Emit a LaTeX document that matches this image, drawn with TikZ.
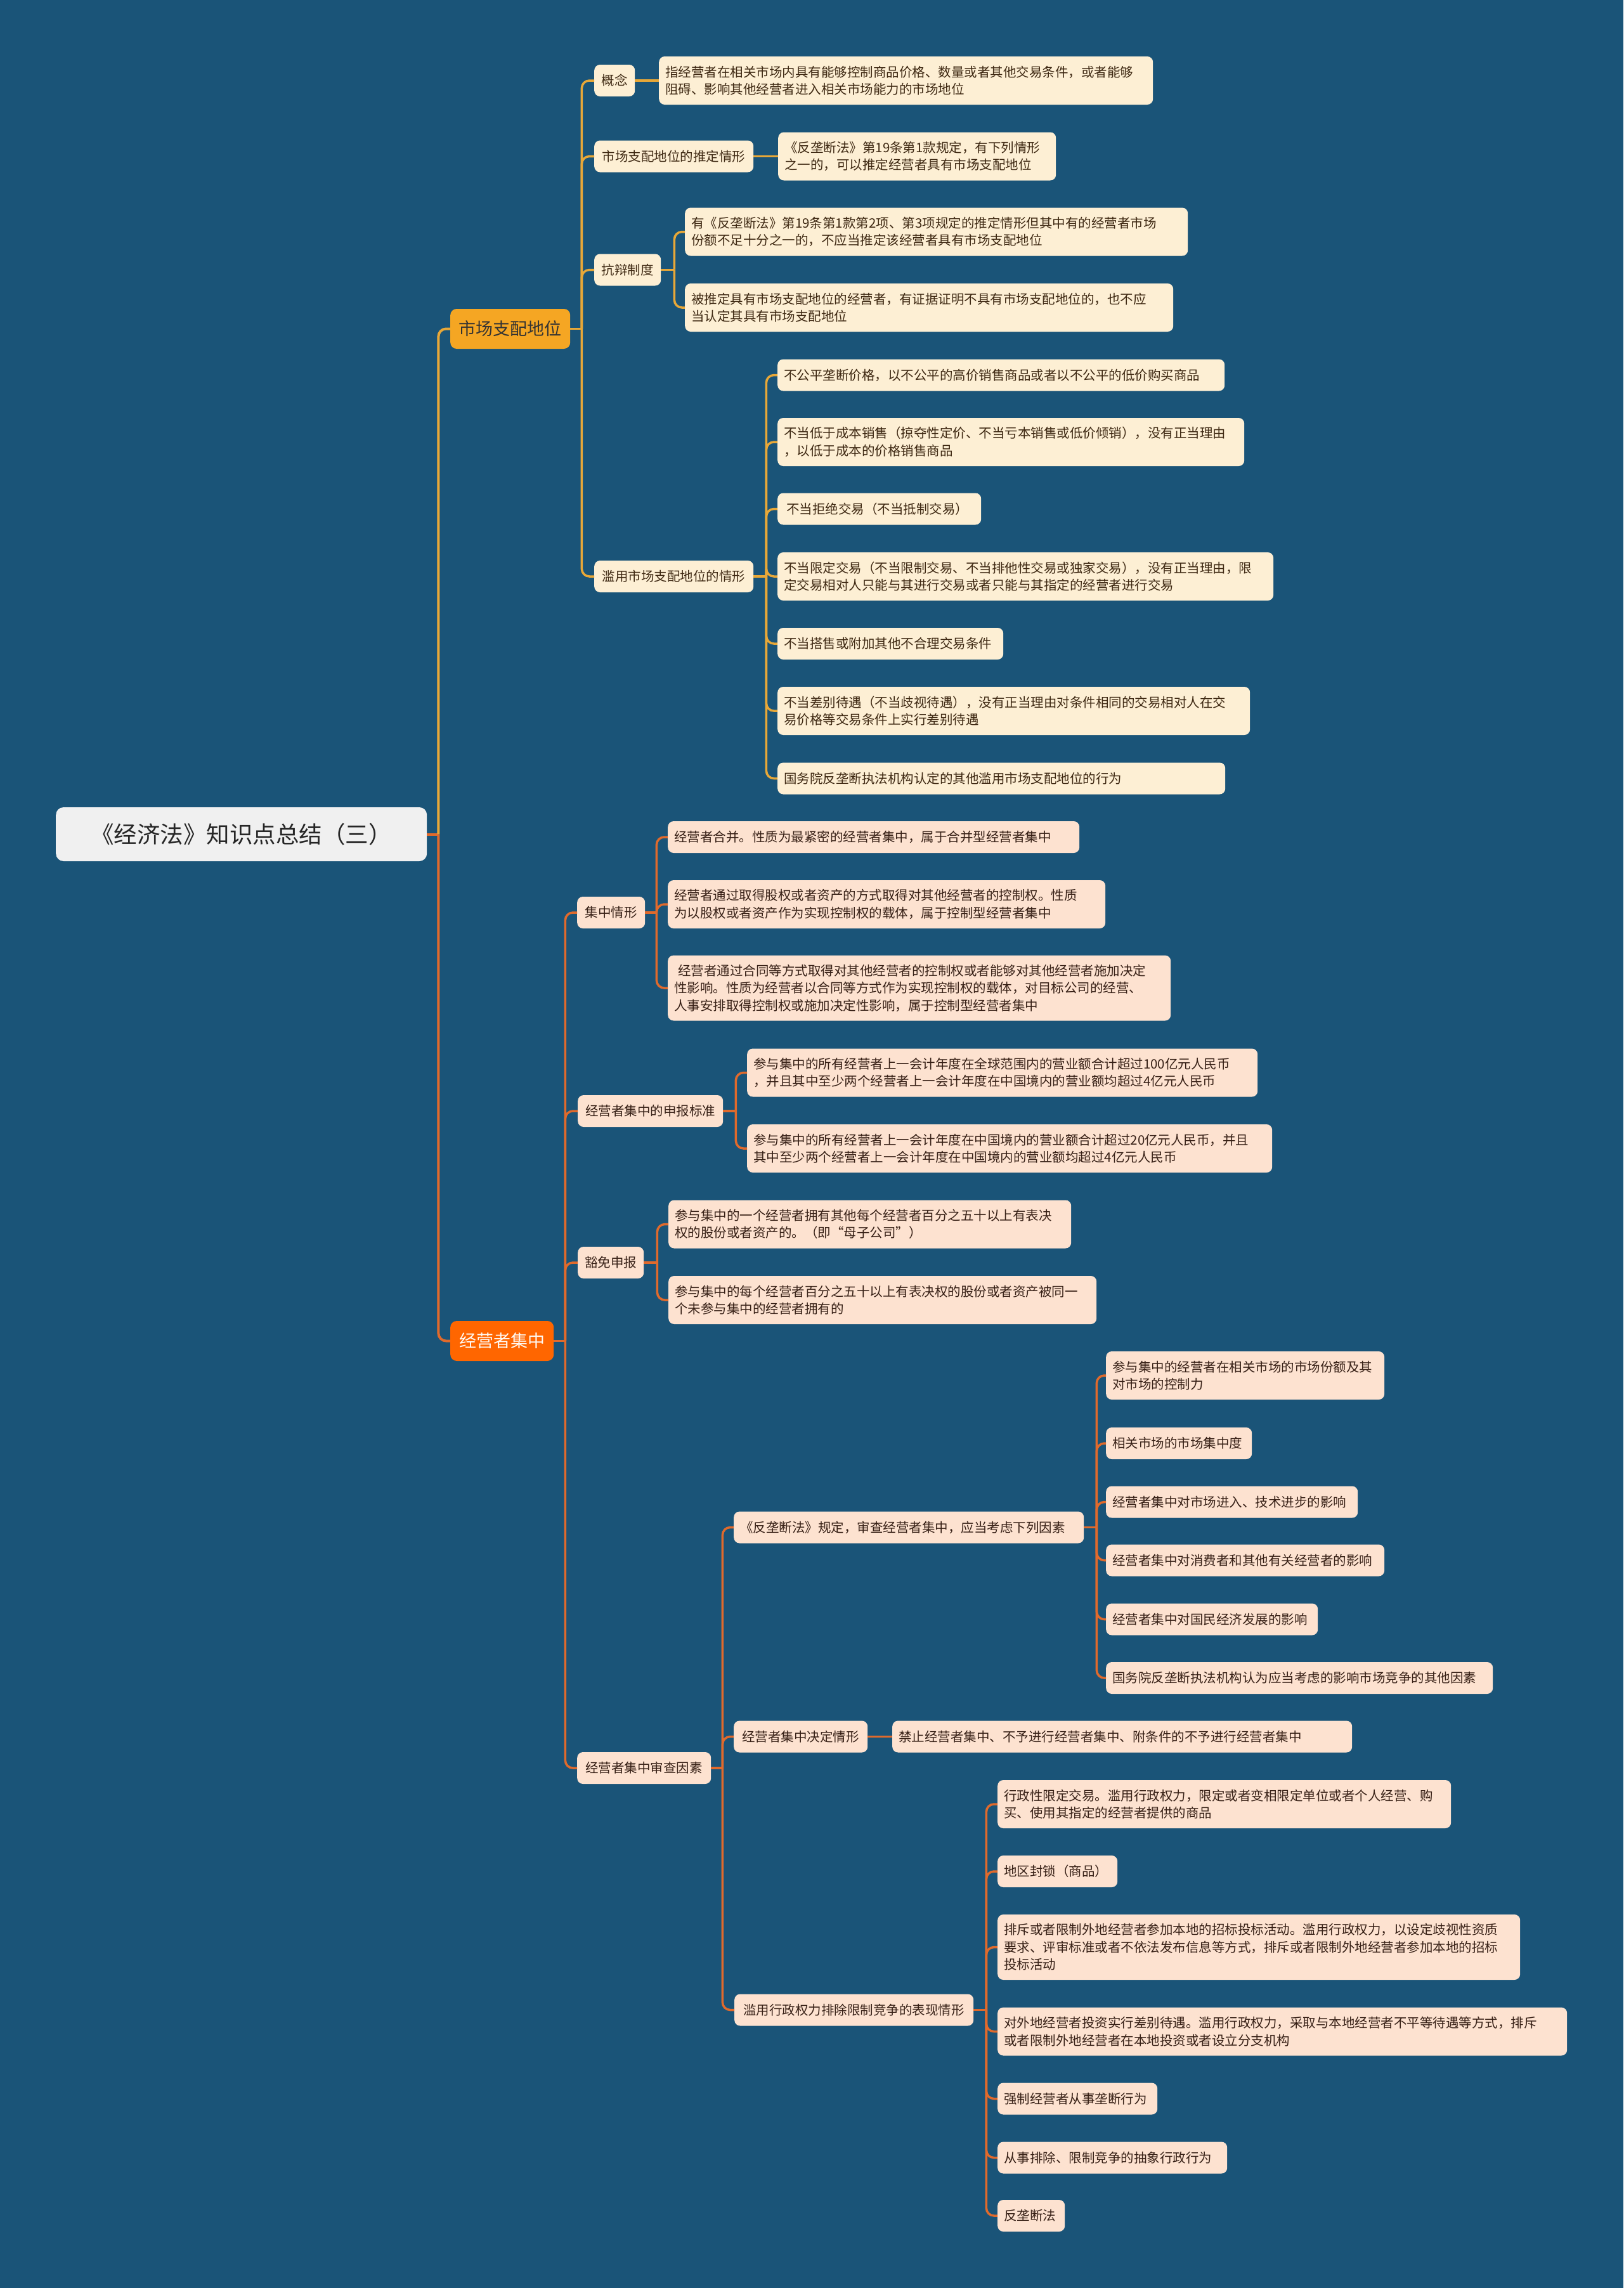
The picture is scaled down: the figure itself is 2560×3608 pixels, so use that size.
\documentclass[tikz,border=0pt]{standalone}
\usepackage{fontspec}
\setmainfont{Noto Sans CJK SC}
\definecolor{bg}{RGB}{26,84,120}
\definecolor{creamA}{RGB}{253,239,212}
\definecolor{peachB}{RGB}{253,226,208}
\definecolor{txtA}{RGB}{62,40,18}
\definecolor{txtB}{RGB}{55,32,22}
\definecolor{lineA}{RGB}{232,168,56}
\definecolor{lineB}{RGB}{224,106,44}
\definecolor{bOne}{RGB}{245,166,35}
\definecolor{bTwo}{RGB}{255,102,0}
\definecolor{rootfill}{RGB}{240,240,240}
\tikzset{
  boxbase/.style={rounded corners=9pt, inner xsep=10pt, inner ysep=6pt, anchor=west,
    font=\fontsize{20.5}{27.5}\selectfont, align=left, minimum height=50pt},
  ya/.style={boxbase, fill=creamA, text=txtA},
  ob/.style={boxbase, fill=peachB, text=txtB},
  yam/.style={ya, align=center},
  obm/.style={ob, align=center},
  lnA/.style={draw=lineA, line width=3.5pt},
  lnB/.style={draw=lineB, line width=3.5pt},
  rc/.style={rounded corners=12pt},
}
\begin{document}
\begin{tikzpicture}[x=1pt,y=-1pt]
\fill[bg] (0,0) rectangle (2560,3608);
\useasboundingbox (0,0) rectangle (2560,3608);

% root and branches
\node[fill=rootfill, text=black!85, rounded corners=12pt, anchor=west, minimum width=585pt, minimum height=85pt,
  font=\fontsize{36.5}{42}\selectfont] (root) at (88,1315.5) {《经济法》知识点总结（三）};
\node[fill=bOne, text=black!80, rounded corners=10pt, anchor=west, minimum width=189pt, minimum height=63pt,
  font=\fontsize{27}{32}\selectfont] (B1) at (710,518.5) {市场支配地位};
\node[fill=bTwo, text=white!95!orange, rounded corners=10pt, anchor=west, minimum width=163pt, minimum height=63pt,
  font=\fontsize{27}{32}\selectfont] (B2) at (710,2114.5) {经营者集中};

% ---------- branch 1 ----------
\node[yam, text width=44pt] (a) at (937,127) {概念};
\node[yam, text width=231pt] (b) at (937,246.5) {市场支配地位的推定情形};
\node[yam, text width=85pt] (c) at (937,425.5) {抗辩制度};
\node[yam, text width=231pt] (d) at (937,909) {滥用市场支配地位的情形};

\node[ya, text width=759pt, minimum height=76pt] (a1) at (1039,127) {指经营者在相关市场内具有能够控制商品价格、数量或者其他交易条件，或者能够\\阻碍、影响其他经营者进入相关市场能力的市场地位};
\node[ya, text width=418pt, minimum height=76pt] (b1) at (1227,246.5) {《反垄断法》第19条第1款规定，有下列情形\\之一的，可以推定经营者具有市场支配地位};
\node[ya, text width=773pt, minimum height=76pt] (c1) at (1080,365.5) {有《反垄断法》第19条第1款第2项、第3项规定的推定情形但其中有的经营者市场\\份额不足十分之一的，不应当推定该经营者具有市场支配地位};
\node[ya, text width=750pt, minimum height=76pt] (c2) at (1080,485) {被推定具有市场支配地位的经营者，有证据证明不具有市场支配地位的，也不应\\当认定其具有市场支配地位};
\node[ya, text width=685pt] (d1) at (1226,591.5) {不公平垄断价格，以不公平的高价销售商品或者以不公平的低价购买商品};
\node[ya, text width=716pt, minimum height=76pt] (d2) at (1226,697) {不当低于成本销售（掠夺性定价、不当亏本销售或低价倾销），没有正当理由\\，以低于成本的价格销售商品};
\node[ya, text width=301pt] (d3) at (1226,802.5) {\hspace*{0.2em}不当拒绝交易（不当抵制交易）};
\node[ya, text width=762pt, minimum height=76pt] (d4) at (1226,909) {不当限定交易（不当限制交易、不当排他性交易或独家交易），没有正当理由，限\\定交易相对人只能与其进行交易或者只能与其指定的经营者进行交易};
\node[ya, text width=336pt] (d5) at (1226,1015) {不当搭售或附加其他不合理交易条件};
\node[ya, text width=725pt, minimum height=76pt] (d6) at (1226,1121) {不当差别待遇（不当歧视待遇），没有正当理由对条件相同的交易相对人在交\\易价格等交易条件上实行差别待遇};
\node[ya, text width=686pt] (d7) at (1226,1227.5) {国务院反垄断执法机构认定的其他滥用市场支配地位的行为};

% ---------- branch 2 ----------
\node[obm, text width=87pt] (e) at (910,1439) {集中情形};
\node[obm, text width=209pt] (f) at (911,1752) {经营者集中的申报标准};
\node[obm, text width=84pt] (g) at (911,1991) {豁免申报};
\node[obm, text width=191pt] (h) at (910,2788) {经营者集中审查因素};

\node[ob, text width=629pt] (e1) at (1053,1320) {经营者合并。性质为最紧密的经营者集中，属于合并型经营者集中};
\node[ob, text width=670pt, minimum height=76pt] (e2) at (1053,1426) {经营者通过取得股权或者资产的方式取得对其他经营者的控制权。性质\\为以股权或者资产作为实现控制权的载体，属于控制型经营者集中};
\node[ob, text width=773pt, minimum height=103pt] (e3) at (1053,1558) {\hspace*{0.3em}经营者通过合同等方式取得对其他经营者的控制权或者能够对其他经营者施加决定\\性影响。性质为经营者以合同等方式作为实现控制权的载体，对目标公司的经营、\\人事安排取得控制权或施加决定性影响，属于控制型经营者集中};
\node[ob, text width=785pt, minimum height=76pt] (f1) at (1178,1691.5) {参与集中的所有经营者上一会计年度在全球范围内的营业额合计超过100亿元人民币\\，并且其中至少两个经营者上一会计年度在中国境内的营业额均超过4亿元人民币};
\node[ob, text width=808pt, minimum height=76pt] (f2) at (1178,1811) {参与集中的所有经营者上一会计年度在中国境内的营业额合计超过20亿元人民币，并且\\其中至少两个经营者上一会计年度在中国境内的营业额均超过4亿元人民币};
\node[ob, text width=615pt, minimum height=76pt] (g1) at (1054,1930.5) {参与集中的一个经营者拥有其他每个经营者百分之五十以上有表决\\权的股份或者资产的。（即“母子公司”）};
\node[ob, text width=655pt, minimum height=76pt] (g2) at (1054,2050) {参与集中的每个经营者百分之五十以上有表决权的股份或者资产被同一\\个未参与集中的经营者拥有的};

\node[ob, text width=532pt] (h1) at (1157,2408.5) {《反垄断法》规定，审查经营者集中，应当考虑下列因素};
\node[obm, text width=191pt] (h2) at (1157,2738.5) {经营者集中决定情形};
\node[obm, text width=357pt] (h3) at (1158,3169.5) {滥用行政权力排除限制竞争的表现情形};

\node[ob, text width=419pt, minimum height=76pt] (h1a) at (1744,2169) {参与集中的经营者在相关市场的市场份额及其\\对市场的控制力};
\node[ob, text width=210pt] (h1b) at (1744,2276) {相关市场的市场集中度};
\node[ob, text width=377pt] (h1c) at (1744,2368.5) {经营者集中对市场进入、技术进步的影响};
\node[ob, text width=419pt] (h1d) at (1744,2460.5) {经营者集中对消费者和其他有关经营者的影响};
\node[ob, text width=314pt] (h1e) at (1744,2553.5) {经营者集中对国民经济发展的影响};
\node[ob, text width=590pt] (h1f) at (1744,2646) {国务院反垄断执法机构认为应当考虑的影响市场竞争的其他因素};

\node[ob, text width=705pt] (h2a) at (1407,2738.5) {禁止经营者集中、不予进行经营者集中、附条件的不予进行经营者集中};

\node[ob, text width=695pt, minimum height=76pt] (h3a) at (1573,2845) {行政性限定交易。滥用行政权力，限定或者变相限定单位或者个人经营、购\\买、使用其指定的经营者提供的商品};
\node[ob, text width=169pt] (h3b) at (1573,2951) {地区封锁（商品）};
\node[ob, text width=804pt, minimum height=103pt] (h3c) at (1573,3070.5) {排斥或者限制外地经营者参加本地的招标投标活动。滥用行政权力，以设定歧视性资质\\要求、评审标准或者不依法发布信息等方式，排斥或者限制外地经营者参加本地的招标\\投标活动};
\node[ob, text width=878pt, minimum height=76pt] (h3d) at (1573,3203.5) {对外地经营者投资实行差别待遇。滥用行政权力，采取与本地经营者不平等待遇等方式，排斥\\或者限制外地经营者在本地投资或者设立分支机构};
\node[ob, text width=232pt] (h3e) at (1573,3309.5) {强制经营者从事垄断行为};
\node[ob, text width=342pt] (h3f) at (1573,3402.5) {从事排除、限制竞争的抽象行政行为};
\node[ob, text width=86pt] (h3g) at (1573,3494) {反垄断法};

% ---------- connectors ----------
% root
\draw[lnB, line width=4pt] (root.east) -- ++(18,0) coordinate (rj);
\draw[lnA, line width=4pt, rc] (rj) |- (B1.west);
\draw[lnB, line width=4pt, rc] (rj) |- (B2.west);

% branch 1
\draw[lnA] (B1.east) -- ++(18,0) coordinate (b1j);
\foreach \n in {a,b,c,d} \draw[lnA, rc] (b1j) |- (\n.west);
\draw[lnA] (a.east) -- (a1.west);
\draw[lnA] (b.east) -- (b1.west);
\draw[lnA] (c.east) -- ++(21,0) coordinate (cj);
\foreach \n in {c1,c2} \draw[lnA, rc] (cj) |- (\n.west);
\draw[lnA] (d.east) -- ++(20,0) coordinate (dj);
\foreach \n in {d1,d2,d3,d4,d5,d6,d7} \draw[lnA, rc] (dj) |- (\n.west);

% branch 2
\draw[lnB] (B2.east) -- ++(18,0) coordinate (b2j);
\foreach \n in {e,f,g,h} \draw[lnB, rc] (b2j) |- (\n.west);
\draw[lnB] (e.east) -- ++(18,0) coordinate (ej);
\foreach \n in {e1,e2,e3} \draw[lnB, rc] (ej) |- (\n.west);
\draw[lnB] (f.east) -- ++(20,0) coordinate (fj);
\foreach \n in {f1,f2} \draw[lnB, rc] (fj) |- (\n.west);
\draw[lnB] (g.east) -- ++(21,0) coordinate (gj);
\foreach \n in {g1,g2} \draw[lnB, rc] (gj) |- (\n.west);
\draw[lnB] (h.east) -- ++(18,0) coordinate (hj);
\foreach \n in {h1,h2,h3} \draw[lnB, rc] (hj) |- (\n.west);
\draw[lnB] (h1.east) -- ++(20,0) coordinate (h1j);
\foreach \n in {h1a,h1b,h1c,h1d,h1e,h1f} \draw[lnB, rc] (h1j) |- (\n.west);
\draw[lnB] (h2.east) -- (h2a.west);
\draw[lnB] (h3.east) -- ++(20,0) coordinate (h3j);
\foreach \n in {h3a,h3b,h3c,h3d,h3e,h3f,h3g} \draw[lnB, rc] (h3j) |- (\n.west);
\end{tikzpicture}
\end{document}
